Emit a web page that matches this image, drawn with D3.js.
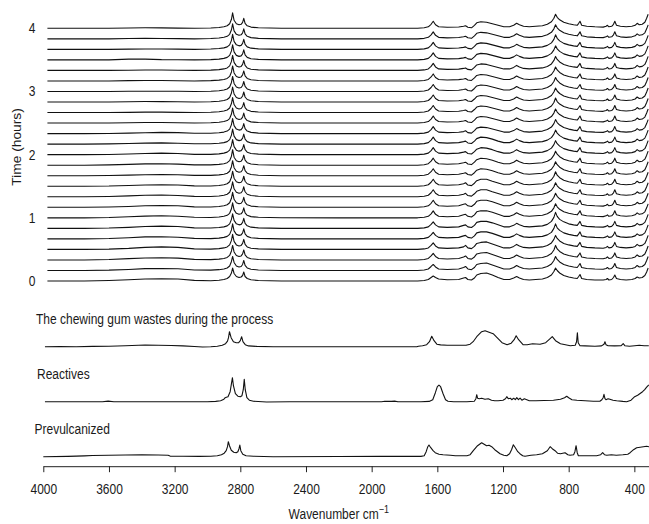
<!DOCTYPE html>
<html>
<head>
<meta charset="utf-8">
<script src="https://cdn.jsdelivr.net/npm/d3@7"></script>
<style>
  html, body { margin: 0; padding: 0; background: #fff; }
  svg { display: block; }
  text { font-family: "Liberation Sans", Arial, Helvetica, sans-serif; fill: #1a1a1a; }
</style>
</head>
<body>
<svg id="chart" width="649" height="524"></svg>
<script>
// ---- axis ticks ----
const xTicks = [4000, 3600, 3200, 2800, 2400, 2000, 1600, 1200, 800, 400];
const timeTicks = [0, 1, 2, 3, 4];

// ---- time-resolved spectra (one trace every 10 minutes) ----
const timeMinutes = [0, 10, 20, 30, 40, 50, 60, 70, 80, 90, 100, 110, 120,
                     130, 140, 150, 160, 170, 180, 190, 200, 210, 220, 230, 240];

// wavenumbers (cm-1) shared by all time-resolved traces
const timeWavenumbers = [3975,3750,3600,3480,3380,3280,3180,3080,2980,2930,
  2900,2880,2865,2854,2847,2838,2824,2808,2795,2786,
  2779,2771,2758,2735,2690,2550,2200,1720,1680,1655,
  1638,1625,1611,1592,1540,1470,1440,1428,1414,1392,
  1374,1360,1335,1300,1265,1230,1195,1160,1135,1117,
  1100,1075,1040,1000,960,930,905,890,880,870,
  855,830,800,770,748,739,731,721,690,640,
  590,572,564,555,538,527,519,509,485,450,
  415,395,383,370,352,336,325,316];

// absorbance (a.u.) of each trace, from t = 0 (first row) to t = 4 h (last row)
const timeSpectra = [
  [0,0,0.5,1.2,2,2.3,2,0.6,0.3,0.8, 1.5,2.5,4.5,8,13,7.5,4.5,3.5,4,5.5, 9,4.5,2.5,1.2,0.5,0,0,0,0.5,1.5, 3.5,5,3.5,2,1.2,1.5,3,3.5,1.5,1, 3,6,7.5,8,6,3.5,1.5,1.5,3,4.5, 3,1.5,1,1.5,2,3.5,6,9.5,13,10.5, 8,5.5,4,3,2.5,4.5,6.5,2.5,1.5,1, 1,1.5,2.5,1,1.5,3.5,6,2.5,1.5,1, 1.5,2.5,4,3,3.5,5.5,9,13],
  [0,0,0.3,1,1.8,2,1.7,0.5,0.3,0.8, 1.5,2.5,4.5,9,14,8,4.5,3.5,4,6, 10,5,2.5,1.2,0.5,0,0,0,0.5,1.5, 4,6,3.5,1.5,1,1.5,3,4,1.5,0.8, 3,6,7,7.5,5.5,3.5,1.5,1.5,3,5, 3.5,2,1.5,2,2.5,4,6.5,10,14,11, 8.5,6,4.5,3.5,3,5,7,3,2,1.5, 1.2,2,3,1.5,2,4,7,3,2,1.5, 2,3,5,3.5,4,6,10,14],
  [0,0,0.4,1.3,2,2.2,1.8,0.6,0.3,0.8, 1.5,2.5,4.5,9,14.5,8,4.5,3.5,4,6, 10,5,2.5,1.2,0.5,0,0,0,0.5,1.5, 4,6.5,3.5,1.5,1,1.5,3,4,1.5,0.8, 3,6,7,7.5,5.5,3.5,1.5,1.5,3,5, 3.5,2,1.5,2,2.5,4,6.5,10,14.5,11, 8.5,6,4.5,3.5,3,5,7,3,2,1.5, 1.2,2,3,1.5,2,4,7,3,2,1.5, 2,3,5,3.5,4,6,10,14],
  [0,0,0.3,1,2,2.5,2,0.5,0.3,0.8, 1.5,2.5,4.5,9,15,8,4.5,3.5,4,6, 10,5,2.5,1.2,0.5,0,0,0,0.5,1.5, 4,6.5,3.5,1.5,1,1.5,2.5,4,1.5,0.8, 3,6,7,7.5,5.5,3.5,1.5,1.5,3,5, 3.5,2,1.5,2,2.5,4,6.5,10,14,11, 8.5,6,4.5,3.5,3,5,7,3,2,1.5, 1.2,2,3,1.5,2,4,7,3,2,1.5, 2,3,5,3.5,4,6,10,14],
  [0,0,0.4,1.2,2,2.2,1.6,0.5,0.3,0.8, 1.5,2.5,4.5,9,15,8,4.5,3.5,4,6, 10,5,2.5,1.2,0.5,0,0,0,0.5,1.5, 4,6.5,3.5,1.5,1,1.5,3,3.5,1.5,0.8, 3,6,7,7,5.5,3.5,1.5,1.5,3,5, 3.5,2,1.5,2,2.5,4,6.5,10.5,15,11, 8.5,6,4.5,3.5,3,5,7,3,2,1.5, 1.2,2,3,1.5,2,4,7,3,2,1.5, 2,3,5,3.5,4,6,10,14],
  [0,0,0.3,1,1.8,2.2,1.8,0.5,0.3,0.8, 1.5,2.5,4.5,9,14.5,8,4.5,3.5,4,6, 10,5,2.5,1.2,0.5,0,0,0,0.5,1.5, 4,6.5,3.5,1.5,1,1.5,3,3.5,1.5,0.8, 3,6,7,7,5.5,3.5,1.5,1.5,3,5, 3.5,2,1.5,2,2.5,4,7,11,16,12, 9,6.5,4.5,3.5,3,5,7,3,2,1.5, 1.2,2,3,1.5,2,4,7,3,2,1.5, 2,3,5,3.5,4,6,10,14],
  [0,0,0.3,1,1.7,2,1.6,0.5,0.3,0.8, 1.5,2.5,4.5,9,15,8,4.5,3.5,4,6, 10,5,2.5,1.2,0.5,0,0,0,0.5,1.5, 4,7,3.5,1.5,1,1.5,3,3.5,1.5,0.8, 3,6,7,7,5.5,3.5,1.5,1.5,3,5, 3.5,2,1.5,2,2.5,4,6.5,10,14,11, 8.5,6,4.5,3.5,3,5,7,3,2,1.5, 1.2,2,3,1.5,2,4,7,3,2,1.5, 2,3,5,3.5,4,6,10,14],
  [0,0,0.3,0.8,1.5,1.8,1.5,0.4,0.3,0.8, 1.5,2.5,4.5,9,15,8,4.5,3.5,4,6, 10,5,2.5,1.2,0.5,0,0,0,0.5,1.5, 4,7,3.5,1.5,1,1.5,3,3.5,1.5,0.8, 3,6,7,7,5.5,3.5,1.5,1.5,3,5, 3.5,2,1.5,2,2.5,4,6.5,10,14,11, 8.5,6,4.5,3.5,3,5,7,3,2,1.5, 1.2,2,3,1.5,2,4,7,3,2,1.5, 2,3,5,3.5,4,6,10,14],
  [0,0,0.3,0.9,1.5,1.7,1.3,0.4,0.3,0.8, 1.5,2.5,4.5,9,15,8,4.5,3.5,4,6, 10,5,2.5,1.2,0.5,0,0,0,0.5,1.5, 4,7,3.5,1.5,1,1.5,2.5,3.5,1.2,0.6, 3,5.5,7,7,5,3.2,1.5,1.5,3,5, 3.5,2,1.5,2,2.5,4,6.5,10,14,11, 8.5,6,4.5,3.5,3,5,7,3,2,1.5, 1.2,2,3,1.5,2,4,7,3,2,1.5, 2,3,5,3.5,4,6,10,14],
  [0,0,0.2,0.8,1.3,1.5,1.2,0.4,0.3,0.8, 1.5,2.5,4.5,9,15,8,4.5,3.5,4,6, 10,5,2.5,1.2,0.5,0,0,0,0.5,1.5, 4,7,3.5,1.5,1,1.5,2.5,3.5,1.2,0.6, 3,5.5,7,7,5,3.2,1.5,1.5,3,5, 3.5,2,1.5,2,2.5,4,6.5,10,14.5,11, 8.5,6,4.5,3.5,3,5,7,3,2,1.5, 1.2,2,3,1.5,2,4,7,3,2,1.5, 2,3,5,3.5,4,6,10,14],
  [0,0,0.2,0.6,1,1.2,1,0.3,0.3,0.8, 1.5,2.5,4.5,9,15,8,4.5,3.5,4,6, 10,5,2.5,1.2,0.5,0,0,0,0.5,1.5, 4,7,3.5,1.5,1,1.5,2.5,3,1.2,0.6, 3,5.5,7,6.5,5,3,1.5,1.5,3,5, 3.5,2,1.5,2,2.5,4,6.5,10,14,11, 8.5,6,4.5,3.5,3,5,7,3,2,1.5, 1.2,2,3,1.5,2,4,7,3,2,1.5, 2,3,5,3.5,4,6,10,14],
  [0,0,0.3,0.8,1.3,1.4,1.1,0.3,0.3,0.8, 1.5,2.5,4.5,9,15.5,8,4.5,3.5,4,6, 10,5,2.5,1.2,0.5,0,0,0,0.5,1.5, 4,7,3.5,1.5,1,1.5,2.5,3,1.2,0.6, 3,5.5,7,6.5,5,3,1.5,1.5,3,5, 3.5,2,1.5,2,2.5,4,6.5,10,14,11, 8.5,6,4.5,3.5,3,5,7,3,2,1.5, 1.2,2,3,1.5,2,4,7,3,2,1.5, 2,3,5,3.5,4,6,10,14],
  [0,0,0.2,0.7,1.2,1.5,1.2,0.3,0.3,0.8, 1.5,2.5,4.5,9,15,8,4.5,3.5,4,6, 10,5,2.5,1.2,0.5,0,0,0,0.5,1.5, 4,7,3.5,1.5,1,1.5,2.5,3,1.2,0.6, 3,5.5,7,6.5,5,3,1.5,1.5,3,5, 3.5,2,1.5,2,2.5,4,6.5,10,14,11, 8.5,6,4.5,3.5,3,5,7,3,2,1.5, 1.2,2,3,1.5,2,4,7,3,2,1.5, 2,3,5,3.5,4,6,10,14],
  [0,0,0.2,0.6,1,1.2,0.8,0.3,0.3,0.8, 1.5,2.5,4.5,9,15,8,4.5,3.5,4,6, 10,5,2.5,1.2,0.5,0,0,0,0.5,1.5, 4,7,3.5,1.5,1,1.5,2.5,3,1.2,0.6, 3,5.5,7,6.5,5,3,1.5,1.5,3,5, 3.5,2,1.5,2,2.5,4,6.5,10,14,11, 8.5,6,4.5,3.5,3,5,7,3,2,1.5, 1.2,2,3,1.5,2,4,7,3,2,1.5, 2,3,5,3.5,4,6,10,14],
  [0,0,0.1,0.5,0.9,1.2,1,0.3,0.3,0.8, 1.5,2.5,4.5,9,15,8,4.5,3.5,4,6, 10,5,2.5,1.2,0.5,0,0,0,0.5,1.5, 4,7,3.5,1.5,1,1.3,2,2.8,1,0.5, 3,5.5,6.5,6,4.5,3,1.5,1.5,3,5, 3.5,2,1.5,2,2.5,4,6.5,10,14,11, 8.5,6,4.5,3.5,3,5,7,3,2,1.5, 1.2,2,3,1.5,2,4,7,3,2,1.5, 2,3,5,3.5,4,6,10,14],
  [0,0,0,0.3,0.5,0.5,0.3,0,0.3,0.8, 1.5,2.5,4.5,9,15,8,4.5,3.5,4,6, 10,5,2.5,1.2,0.5,0,0,0,0.5,1.5, 4,7,3.5,1.5,1,1.3,2,2.5,1,0.5, 3,5.5,6.5,6,4.5,3,1.5,1.5,3,5, 3.5,2,1.5,2,2.5,4,6.5,10,14,11, 8.5,6,4.5,3.5,3,5,7,3,2,1.5, 1.2,2,3,1.5,2,4,7,3,2,1.5, 2,3,5,3.5,4,6,10,14],
  [0,0,0,0.2,0.4,0.4,0.2,0,0.3,0.8, 1.5,2.5,4.5,9,15,8,4.5,3.5,4,6, 10,5,2.5,1.2,0.5,0,0,0,0.5,1.5, 4,7,3.5,1.5,1,1.3,2,2.5,1,0.5, 3,5.5,6.5,6,4.5,3,1.5,1.5,3,5, 3.5,2,1.5,2,2.5,4,6.5,10,14.5,11, 8.5,6,4.5,3.5,3,5,7,3,2,1.5, 1.2,2,3,1.5,2,4,7,3,2,1.5, 2,3,5,3.5,4,6,10,14],
  [0,0,0,0.3,0.5,0.4,0.2,0,0.3,0.8, 1.5,2.5,4.5,9,15,8,4.5,3.5,4,6, 10,5,2.5,1.2,0.5,0,0,0,0.5,1.5, 4,7,3.5,1.5,1,1.3,2,2.5,1,0.5, 3,5.5,6.5,6,4.5,3,1.5,1.5,3,5, 3.5,2,1.5,2,2.5,4,6.5,10,14,11, 8.5,6,4.5,3.5,3,5,7,3,2,1.5, 1.2,2,3,1.5,2,4,7,3,2,1.5, 2,3,5,3.5,4,6,10,14],
  [0,0,0,0.2,0.3,0.3,0.2,0,0.3,0.8, 1.5,2.5,4.5,9,15,8,4.5,3.5,4,6, 10,5,2.5,1.2,0.5,0,0,0,0.5,1.5, 4,7,3.5,1.5,1,1.3,2,2.5,1,0.5, 3,5.5,6.5,6,4.5,3,1.5,1.5,3,5, 3.5,2,1.5,2,2.5,4,6.5,10,14,11, 8.5,6,4.5,3.5,3,5,7,3,2,1.5, 1.2,2,3,1.5,2,4,7,3,2,1.5, 2,3,5,3.5,4,6,10,14],
  [0,0,0,0.3,0.5,0.4,0.2,0,0.3,0.8, 1.5,2.5,4.5,9,15,8,4.5,3.5,4,6, 10,5,2.5,1.2,0.5,0,0,0,0.5,1.5, 4,7,3.5,1.5,1,1.3,2,2.5,1,0.5, 3,5.5,6.5,6,4.5,3,1.5,1.5,3,5, 3.5,2,1.5,2,2.5,4,6.5,10,14,11, 8.5,6,4.5,3.5,3,5,7,3,2,1.5, 1.2,2,3,1.5,2,4,7,3,2,1.5, 2,3,5,3.5,4,6,10,14],
  [0,0,0,0.2,0.4,0.4,0.2,0,0.3,0.8, 1.5,2.5,4.5,9,15,8,4.5,3.5,4,6, 10,5,2.5,1.2,0.5,0,0,0,0.5,1.5, 4,7,3.5,1.5,1,1.3,2,2.5,1,0.5, 3,5.5,6.5,6,4.5,3,1.5,1.5,3,5, 3.5,2,1.5,2,2.5,4,6.5,10,14,11, 8.5,6,4.5,3.5,3,5,7,3,2,1.5, 1.2,2,3,1.5,2,4,7,3,2,1.5, 2,3,5,3.5,4,6,10,14],
  [0,0,0,0.8,0.8,0.3,0.2,0,0.3,0.8, 1.5,2.5,4.5,9,15,8,4.5,3.5,4,6, 10,5,2.5,1.2,0.5,0,0,0,0.5,1.5, 4,7,3.5,1.5,1,1.3,2,2.5,1,0.5, 3,5.5,6.5,6,4.5,3,1.5,1.5,3,5, 3.5,2,1.5,2,2.5,4,6.5,10,14,11, 8.5,6,4.5,3.5,3,5,7,3,2,1.5, 1.2,2,3,1.5,2,4,7,3,2,1.5, 2,3,5,3.5,4,6,10,14],
  [0,0,0,0.2,0.3,0.3,0.2,0,0.3,0.8, 1.5,2.5,4.5,9,15,8,4.5,3.5,4,6, 10,5,2.5,1.2,0.5,0,0,0,0.5,1.5, 4,7,3.5,1.5,1,1.3,2,2.5,1,0.5, 3,5.5,6.5,6,4.5,3,1.5,1.5,3,5, 3.5,2,1.5,2,2.5,4,6.5,10,14.5,11, 8.5,6,4.5,3.5,3,5,7,3,2,1.5, 1.2,2,3,1.5,2,4,7,3,2,1.5, 2,3,5,3.5,4,6,10,14],
  [0,0,0,0.3,0.5,0.4,0.2,0,0.3,0.8, 1.5,2.5,4.5,9,15,8,4.5,3.5,4,6, 10,5,2.5,1.2,0.5,0,0,0,0.5,1.5, 4,7,3.5,1.5,1,1.3,2,2.5,1,0.5, 3,5.5,6.5,6,4.5,3,1.5,1.5,3,5, 3.5,2,1.5,2,2.5,4,6.5,10,14,11, 8.5,6,4.5,3.5,3,5,7,3,2,1.5, 1.2,2,3,1.5,2,4,7,3,2,1.5, 2,3,5,3.5,4,6,10,14],
  [0,0,0,0.3,0.5,0.4,0.2,0,0.3,0.8, 1.5,2.5,4.5,9,15.5,8,4.5,3.5,4,6, 10,5,2.5,1.2,0.5,0,0,0,0.5,1.5, 4,7,3.5,1.5,1,1.3,2,2.5,1,0.5, 3,5.5,6.5,6,4.5,3,1.5,1.5,3,5, 3.5,2,1.5,2,2.5,4,6.5,10,14,11, 8.5,6,4.5,3.5,3,5,7,3,2,1.5, 1.2,2,3,1.5,2,4,7,3,2,1.5, 2,3,5,3.5,4,6,10,14]
];

// ---- reference spectra ----
const sampleNames = ["The chewing gum wastes during the process", "Reactives", "Prevulcanized"];

const wasteWavenumbers = [3990,3900,3800,3700,3600,3500,3420,3380,3300,3220,3150,3080,3030,2980,2940,
  2910,2890,2878,2872,2866,2856,2842,2825,2810,2800,2792,2784,2770,2750,2700,2600,2200,
  1725,1715,1690,1665,1648,1634,1620,1603,1580,1540,1470,1425,1400,1382,1360,1330,1309,1285,
  1260,1230,1206,1175,1150,1132,1120,1105,1078,1053,1020,974,940,913,900,880,850,820,790,760,
  752,747,742,731,700,640,600,585,579,573,560,520,480,468,458,430,398,370,340,312];
const wasteAbs = [0,0.2,0,0.3,0.5,1,1.5,1.6,1.5,1.2,0.8,0.2,-0.3,0,0.5,
  1.5,3,5.5,9,15,9,5,4,4,6,10,5,2,0.8,0.3,0,0,
  0,0.5,1,2,5,10.5,6,2.5,1.8,1.5,1.5,1.5,2.5,5,10,15,16,14.5,
  13,8,4,2,3.5,7,11,7,2,2,3,2.5,4,8,10,6,3,2,1,1.5,
  5,14,4,1,0.8,0.5,0.8,2.5,5,2,1,0.8,1,3,1,0.5,1,1.5,1,1];

const reactivesWavenumbers = [3990,3800,3640,3605,3570,3300,3000,2950,2920,2900,
  2892,2885,2875,2862,2852,2848,2842,2830,2815,2800,
  2790,2782,2776,2770,2760,2745,2720,2640,2500,2200,
  1940,1920,1880,1860,1840,1700,1650,1628,1612,1600,
  1590,1580,1565,1550,1535,1500,1420,1375,1365,1360,
  1355,1345,1330,1310,1290,1270,1250,1230,1200,1185,
  1177,1168,1155,1147,1135,1125,1116,1106,1096,1085,
  1070,1040,1000,950,893,850,825,812,800,780,
  750,700,650,610,598,590,585,579,573,560,
  549,530,508,470,447,420,398,380,367,350,
  337,325,312];
const reactivesAbs = [0,0,0,0.6,0,0,0,0.3,1,2.5,
  4,4.5,5,10,20,24,16,8,5.5,5,
  6,12,22.5,12,4,1.5,0.5,-0.3,0,0,
  0,0.5,0.3,0.6,0,0,0.3,2,9,15,
  16.5,15,8,2,0.5,0,0,0.5,3,7,
  3.5,3,3.5,2.5,3,1.5,1,1,1.5,3,
  5,3,3.5,2,3.5,2,4,2,3.5,1.5,
  3,1,1,1.2,1.5,2.5,4,5.5,4,2,
  1.5,1,0.5,0.5,2,4,7.3,3,2,3,
  2.5,1.5,1,0.3,0,1.5,5,6.5,8,10,
  12,14.5,16.7];

const prevulcanizedWavenumbers = [4000,3850,3750,3700,3600,3500,3400,3300,3240,3228,
  3150,3050,2980,2940,2915,2898,2886,2878,2873,2866,
  2855,2840,2825,2815,2808,2803,2797,2785,2765,2720,
  2600,2200,1950,1900,1700,1680,1668,1658,1651,1640,
  1626,1613,1590,1565,1520,1490,1420,1400,1381,1355,
  1330,1315,1300,1285,1269,1250,1218,1195,1177,1160,
  1148,1137,1125,1110,1097,1080,1066,1030,995,960,
  930,913,900,883,868,850,822,805,792,770,
  762,755,748,741,720,690,630,605,593,582,
  568,540,510,470,440,426,405,386,365,345,
  325,311];
const prevulcanizedAbs = [0,0.3,0.8,1.2,1.5,1.7,1.8,1.7,1.5,0.6,
  0.5,0.3,0.5,1,2,3.5,6,10,15,11,
  6.5,4.5,4,5,8,11.7,6,2.5,1,0.5,
  0,0.2,0.3,0.5,0.3,1,5,10,11.7,9,
  6,4,2.5,2,1.5,1,1,2,6,11,
  14,12.5,11,11.5,10,7,3,1.5,1,3,
  7,12,9,5,3,1,0.5,1.5,2,3,
  6,10,8,6,3.5,3,4,2,1.5,2,
  5,11,4,1,1,1,1,2,4,2,
  1.5,2,1.5,2,2.5,4,7,9,9.5,10,
  10.5,10];

// ---- drawing ----
const svg = d3.select("#chart");
svg.append("rect").attr("width", 649).attr("height", 524).attr("fill", "#fff");

const x = d3.scaleLinear().domain([4000, 312]).range([43.3, 648.8]);
const yTime = d3.scaleLinear().domain([0, 4]).range([281, 28.3]);
const absHeight = d3.scaleLinear().domain([0, 20]).range([0, 20]);
const yPanel = d3.scalePoint().domain(sampleNames).range([346.7, 456.7]);

const TEXT_STRETCH = 1.15;
const lineColor = "#111";

function spectrumPath(baseY) {
  return d3.line()
    .x(d => x(d[0]))
    .y(d => baseY - absHeight(d[1]));
}

// stacked time-resolved traces
const stackG = svg.append("g");
timeSpectra.forEach((row, i) => {
  const baseY = yTime(timeMinutes[i] / 60);
  stackG.append("path")
    .datum(d3.zip(timeWavenumbers, row))
    .attr("d", spectrumPath(baseY))
    .attr("fill", "none")
    .attr("stroke", lineColor)
    .attr("stroke-width", 1.1)
    .attr("stroke-linejoin", "round");
});

// time labels
svg.append("g").selectAll("text")
  .data(timeTicks)
  .join("text")
  .attr("transform", d => `translate(35.5,${yTime(d)}) scale(1,${TEXT_STRETCH})`)
  .attr("text-anchor", "end")
  .attr("dy", "0.36em")
  .attr("font-size", 12)
  .text(d => d);

svg.append("text")
  .attr("transform", `translate(16.5,147) scale(1,${TEXT_STRETCH}) rotate(-90)`)
  .attr("text-anchor", "middle")
  .attr("dy", "0.36em")
  .attr("font-size", 12)
  .text("Time (hours)");

// reference spectra
const panels = [
  { name: sampleNames[0], wn: wasteWavenumbers, abs: wasteAbs },
  { name: sampleNames[1], wn: reactivesWavenumbers, abs: reactivesAbs },
  { name: sampleNames[2], wn: prevulcanizedWavenumbers, abs: prevulcanizedAbs }
];
const labelX = [36, 37, 34.5];
panels.forEach((p, i) => {
  const baseY = yPanel(p.name);
  svg.append("path")
    .datum(d3.zip(p.wn, p.abs))
    .attr("d", spectrumPath(baseY))
    .attr("fill", "none")
    .attr("stroke", lineColor)
    .attr("stroke-width", 1.1)
    .attr("stroke-linejoin", "round");
  svg.append("text")
    .attr("transform", `translate(${labelX[i]},${baseY - 28}) scale(1,${TEXT_STRETCH})`)
    .attr("dy", "0.36em")
    .attr("font-size", 12)
    .text(p.name);
});

// wavenumber axis
const axisG = svg.append("g")
  .attr("transform", "translate(0,466.2)")
  .call(d3.axisBottom(x).tickValues(xTicks).tickSize(6).tickSizeOuter(0).tickFormat(d3.format("d")));
axisG.select(".domain").attr("stroke", "#222");
axisG.selectAll(".tick line").attr("stroke", "#222");
axisG.selectAll(".tick text")
  .attr("font-family", null)
  .attr("font-size", 12)
  .attr("fill", "#1a1a1a")
  .attr("dy", 0)
  .attr("y", 28.3 / TEXT_STRETCH)
  .attr("transform", `scale(1,${TEXT_STRETCH})`);
axisG.attr("font-family", null).attr("font-size", null);

const title = svg.append("text")
  .attr("transform", `translate(338.8,518.5) scale(1,${TEXT_STRETCH})`)
  .attr("text-anchor", "middle")
  .attr("font-size", 12);
title.append("tspan").text("Wavenumber cm");
title.append("tspan").attr("dy", -5).attr("font-size", 9).text("\u22121");
</script>
</body>
</html>
